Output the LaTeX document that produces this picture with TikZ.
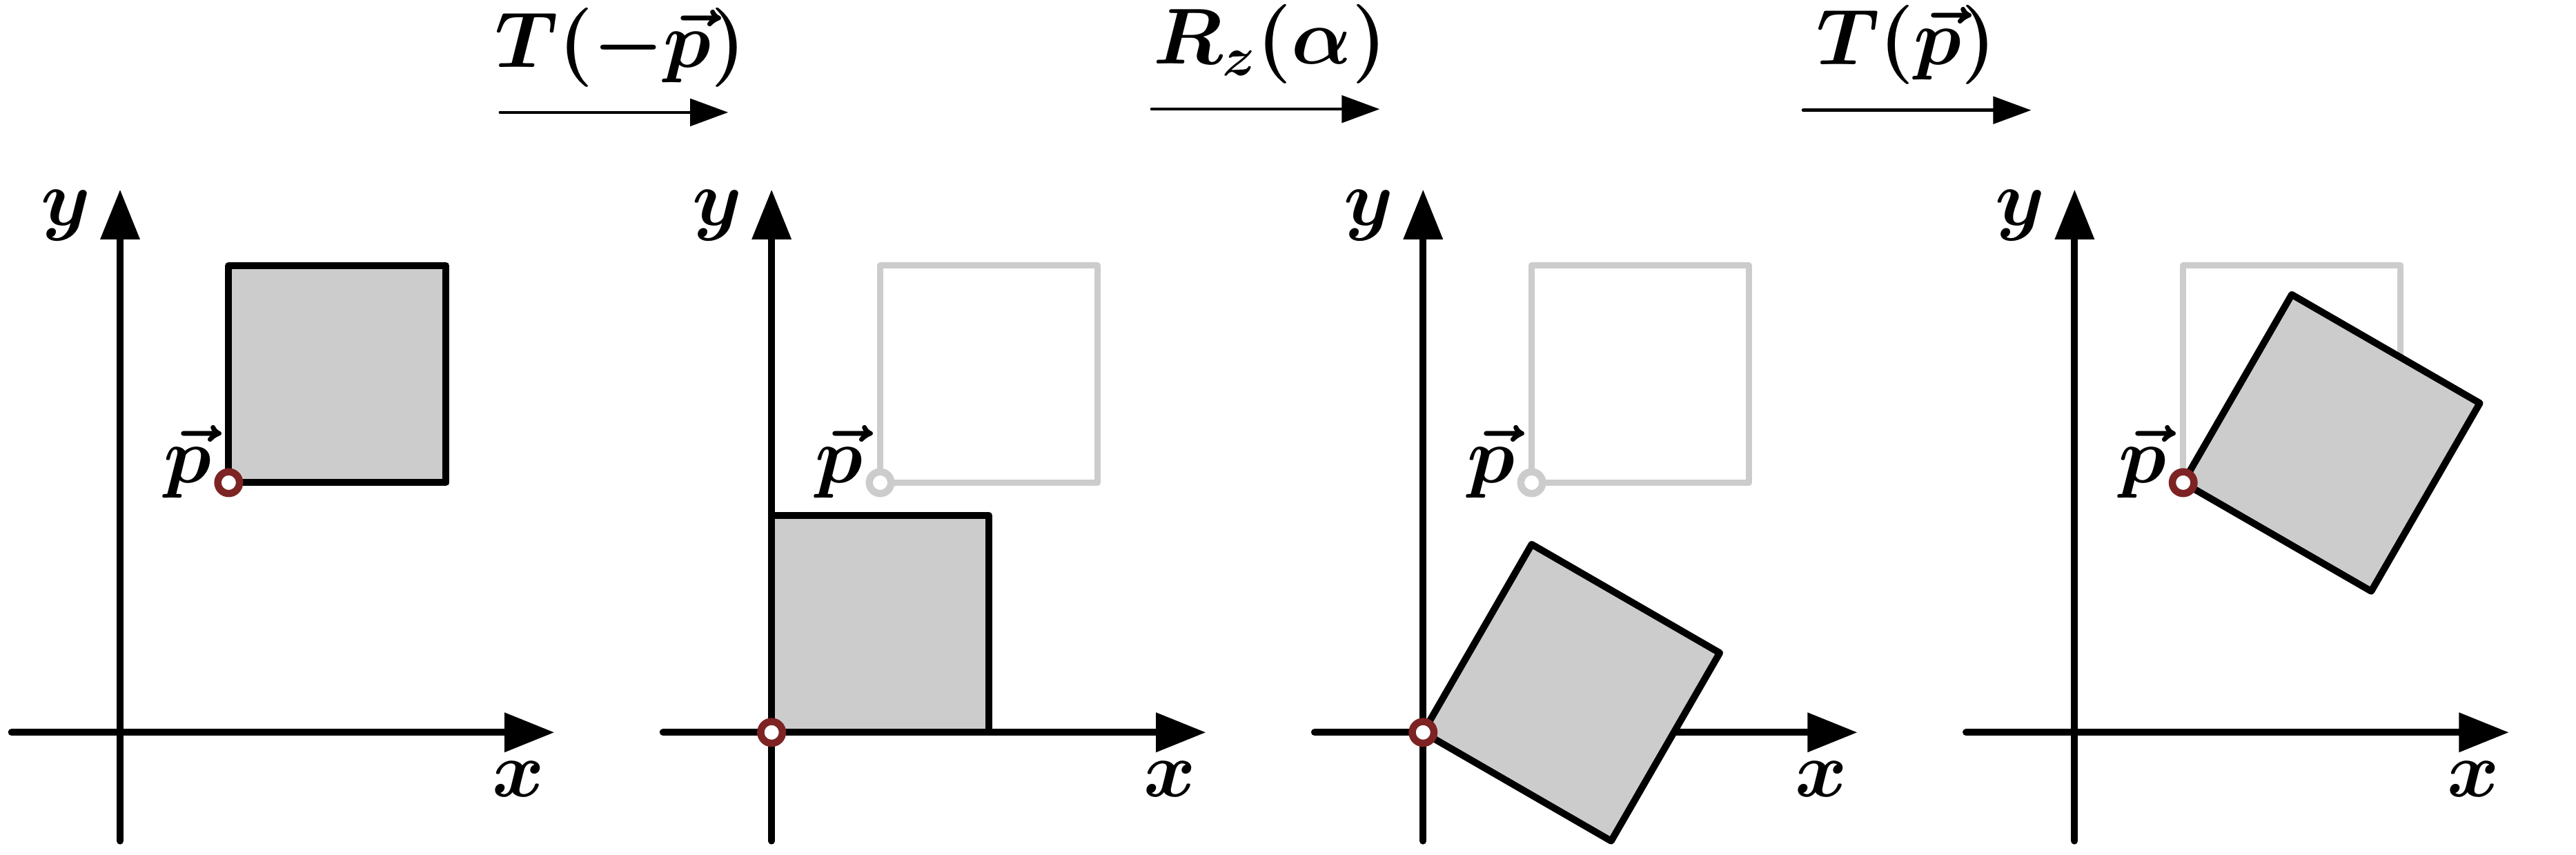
\documentclass[tikz,border=0pt]{standalone}
\usepackage{amsmath}
\usepackage{amssymb}
\usepackage{tikz}
\usetikzlibrary{arrows.meta,positioning}
\usepackage{xcolor}
\definecolor{pivotred}{RGB}{125,35,35}
\definecolor{boxgray}{RGB}{204,204,204}
\tikzstyle{axis} = [line width=1.8pt, line cap=round, -{Triangle[length=0.46cm,width=0.35cm]}]
\tikzstyle{arrow} = [line width=0.8pt, line cap=round, -{Triangle[length=0.35cm,width=0.25cm]}]
\tikzstyle{solidbox} = [line width=1.8pt, line join=round, draw=black, fill=boxgray]
\tikzstyle{ghostbox} = [line width=1.7pt, line join=round, draw=boxgray]
\tikzstyle{pivot} = [line width=1.9pt, draw=pivotred, fill=white]
\tikzstyle{ghostpivot} = [line width=1.9pt, draw=boxgray, fill=white]
\tikzstyle{lbl} = [font=\fontsize{20}{24}\selectfont]

\begin{document}
\begin{tikzpicture}
\useasboundingbox (-1.106,-1.123) rectangle (22.618,6.745);

% coordinate frames
\foreach \i in {0,1,2,3} {
  \begin{scope}[xshift=\i*6cm]
    \coordinate (xs\i) at (-1,0);
    \coordinate (xe\i) at (4,0);
    \coordinate (ys\i) at (0,-1);
    \coordinate (ye\i) at (0,5);
    \coordinate (o\i) at (0,0);
    \coordinate (p\i) at (1,2.3);
    \draw[axis] (xs\i) -- (xe\i);
    \draw[axis] (ys\i) -- (ye\i);
    \node[lbl, anchor=base] (xl\i) at (3.67,-0.59) {$\boldsymbol{x}$};
    \node[lbl, anchor=base] (yl\i) at (-0.5,4.67) {$\boldsymbol{y}$};
  \end{scope}
}

% panel 1: original square
\draw[solidbox] (p0) rectangle ++(2,2);
\draw[pivot] (p0) circle (0.1);
\node[lbl, anchor=base east, inner sep=0] (pl0) at ([xshift=-0.15cm]p0) {$\boldsymbol{\vec{p}}$};

% panel 2: translated to origin
\draw[ghostbox] (p1) rectangle ++(2,2);
\draw[ghostpivot] (p1) circle (0.1);
\node[lbl, anchor=base east, inner sep=0] (pl1) at ([xshift=-0.15cm]p1) {$\boldsymbol{\vec{p}}$};
\draw[solidbox] (o1) rectangle ++(2,2);
\draw[pivot] (o1) circle (0.1);

% panel 3: rotated about origin
\draw[ghostbox] (p2) rectangle ++(2,2);
\draw[ghostpivot] (p2) circle (0.1);
\node[lbl, anchor=base east, inner sep=0] (pl2) at ([xshift=-0.15cm]p2) {$\boldsymbol{\vec{p}}$};
\draw[solidbox, shift={(o2)}, rotate=-30] (0,0) rectangle (2,2);
\draw[pivot] (o2) circle (0.1);

% panel 4: translated back
\draw[ghostbox] (p3) rectangle ++(2,2);
\draw[solidbox, shift={(p3)}, rotate=-30] (0,0) rectangle (2,2);
\draw[pivot] (p3) circle (0.1);
\node[lbl, anchor=base east, inner sep=0] (pl3) at ([xshift=-0.15cm]p3) {$\boldsymbol{\vec{p}}$};

% transformation arrows
\coordinate (as0) at (3.5,5.71);
\coordinate (ae0) at (5.6,5.71);
\coordinate (as1) at (9.5,5.74);
\coordinate (ae1) at (11.6,5.74);
\coordinate (as2) at (15.5,5.73);
\coordinate (ae2) at (17.6,5.73);
\draw[arrow] (as0) -- node[lbl, above=5.3pt, inner sep=1pt, xshift=0.06cm] (t0) {$\boldsymbol{T(-\vec{p})}$} (ae0);
\draw[arrow] (as1) -- node[lbl, above=5.3pt, inner sep=1pt, xshift=0.04cm] (t1) {$\boldsymbol{R_z(\alpha)}$} (ae1);
\draw[arrow] (as2) -- node[lbl, above=5.3pt, inner sep=1pt, xshift=-0.1cm] (t2) {$\boldsymbol{T(\vec{p})}$} (ae2);
\end{tikzpicture}
\end{document}
